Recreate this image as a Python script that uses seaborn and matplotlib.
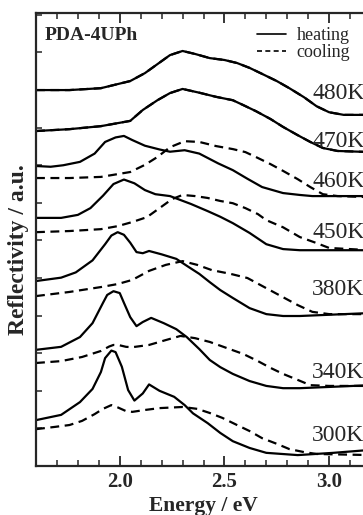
# -*- coding: utf-8 -*-
import numpy as np
import pandas as pd
import matplotlib
matplotlib.use('Agg')
import matplotlib.pyplot as plt
import matplotlib.transforms as mtransforms
import seaborn as sns
from matplotlib.lines import Line2D
from matplotlib.ticker import MultipleLocator, NullFormatter

sns.set_style('ticks')
plt.rcParams['font.family'] = ['Liberation Serif', 'DejaVu Serif']

# 数据 (energy / eV, reflectivity / a.u.)
e_480h = [1.60, 1.76, 1.91, 2.05, 2.12, 2.18, 2.24, 2.30, 2.36, 2.43, 2.50, 2.56, 2.62, 2.68, 2.75, 2.81, 2.88, 2.94, 3.00, 3.07, 3.20]
r_480h = [10.00, 10.00, 10.05, 10.24, 10.45, 10.69, 10.93, 11.04, 10.96, 10.85, 10.80, 10.72, 10.59, 10.43, 10.24, 10.05, 9.81, 9.57, 9.41, 9.34, 9.34]
e_480c = e_480h
r_480c = r_480h

e_470h = [1.60, 1.76, 1.91, 2.05, 2.11, 2.18, 2.24, 2.30, 2.38, 2.46, 2.54, 2.59, 2.65, 2.72, 2.78, 2.85, 2.91, 2.97, 3.04, 3.20]
r_470h = [8.91, 8.96, 9.04, 9.18, 9.47, 9.73, 9.92, 10.03, 9.93, 9.82, 9.73, 9.60, 9.44, 9.23, 9.02, 8.80, 8.62, 8.46, 8.38, 8.35]
e_470c = e_470h
r_470c = r_470h

e_460h = [1.60, 1.67, 1.73, 1.81, 1.88, 1.93, 1.98, 2.02, 2.06, 2.12, 2.19, 2.24, 2.31, 2.38, 2.47, 2.54, 2.61, 2.68, 2.78, 2.86, 2.92, 3.20]
r_460h = [7.98, 7.96, 8.00, 8.09, 8.31, 8.62, 8.74, 8.78, 8.67, 8.52, 8.42, 8.36, 8.40, 8.31, 8.05, 7.87, 7.64, 7.42, 7.26, 7.21, 7.18, 7.18]
e_460c = [1.60, 1.76, 1.91, 2.05, 2.12, 2.18, 2.24, 2.31, 2.38, 2.46, 2.54, 2.60, 2.65, 2.72, 2.78, 2.85, 2.91, 2.97, 3.04, 3.20]
r_460c = [7.66, 7.66, 7.69, 7.82, 8.01, 8.22, 8.48, 8.64, 8.62, 8.51, 8.43, 8.35, 8.22, 8.03, 7.85, 7.63, 7.42, 7.23, 7.18, 7.15]

e_450h = [1.60, 1.72, 1.80, 1.86, 1.92, 1.97, 2.02, 2.07, 2.12, 2.17, 2.24, 2.34, 2.42, 2.48, 2.54, 2.62, 2.70, 2.78, 2.86, 3.20]
r_450h = [6.60, 6.60, 6.68, 6.86, 7.19, 7.50, 7.62, 7.52, 7.34, 7.23, 7.18, 6.97, 6.78, 6.63, 6.46, 6.20, 5.90, 5.77, 5.74, 5.74]
e_450c = [1.60, 1.76, 1.91, 1.99, 2.06, 2.13, 2.19, 2.25, 2.30, 2.36, 2.42, 2.48, 2.54, 2.60, 2.66, 2.70, 2.78, 2.86, 2.94, 3.00, 3.20]
r_450c = [6.22, 6.25, 6.30, 6.38, 6.49, 6.62, 6.86, 7.10, 7.21, 7.18, 7.13, 7.05, 6.99, 6.86, 6.70, 6.54, 6.35, 6.09, 5.93, 5.80, 5.74]

e_380h = [1.60, 1.72, 1.79, 1.87, 1.93, 1.96, 1.99, 2.02, 2.05, 2.08, 2.11, 2.14, 2.20, 2.27, 2.33, 2.38, 2.43, 2.48, 2.54, 2.62, 2.70, 2.78, 2.86, 3.20]
r_380h = [4.92, 5.01, 5.15, 5.47, 5.90, 6.13, 6.22, 6.15, 5.94, 5.69, 5.66, 5.72, 5.63, 5.51, 5.29, 5.11, 4.89, 4.68, 4.47, 4.20, 4.04, 3.99, 3.99, 4.07]
e_380c = [1.60, 1.76, 1.91, 1.99, 2.06, 2.14, 2.22, 2.30, 2.37, 2.44, 2.53, 2.61, 2.68, 2.77, 2.85, 2.92, 3.00, 3.20]
r_380c = [4.52, 4.63, 4.76, 4.84, 4.95, 5.19, 5.35, 5.45, 5.35, 5.21, 5.11, 5.00, 4.79, 4.52, 4.28, 4.10, 4.04, 4.04]

e_340h = [1.60, 1.72, 1.81, 1.87, 1.92, 1.94, 1.97, 2.00, 2.02, 2.05, 2.08, 2.11, 2.15, 2.21, 2.27, 2.32, 2.38, 2.43, 2.48, 2.54, 2.62, 2.70, 2.78, 2.86, 3.20]
r_340h = [3.09, 3.17, 3.43, 3.80, 4.34, 4.55, 4.65, 4.60, 4.34, 3.96, 3.72, 3.83, 3.94, 3.80, 3.64, 3.43, 3.11, 2.82, 2.63, 2.45, 2.26, 2.13, 2.07, 2.07, 2.15]
e_340c = [1.60, 1.72, 1.82, 1.91, 1.95, 1.97, 2.00, 2.03, 2.06, 2.14, 2.22, 2.29, 2.36, 2.43, 2.51, 2.59, 2.66, 2.72, 2.78, 2.85, 2.91, 3.00, 3.20]
r_340c = [2.74, 2.79, 2.90, 3.06, 3.18, 3.22, 3.21, 3.17, 3.16, 3.22, 3.35, 3.46, 3.40, 3.30, 3.14, 2.98, 2.79, 2.61, 2.45, 2.29, 2.15, 2.13, 2.13]

e_300h = [1.60, 1.72, 1.81, 1.87, 1.91, 1.93, 1.96, 1.98, 2.01, 2.04, 2.07, 2.11, 2.14, 2.19, 2.26, 2.31, 2.35, 2.42, 2.48, 2.54, 2.62, 2.70, 2.85, 3.02, 3.20]
r_300h = [1.22, 1.36, 1.70, 2.05, 2.50, 2.87, 3.07, 3.03, 2.64, 2.02, 1.74, 1.93, 2.17, 2.00, 1.84, 1.62, 1.40, 1.14, 0.88, 0.66, 0.48, 0.35, 0.29, 0.35, 0.43]
e_300c = [1.60, 1.69, 1.76, 1.82, 1.88, 1.92, 1.96, 1.99, 2.03, 2.06, 2.12, 2.19, 2.30, 2.37, 2.43, 2.49, 2.56, 2.62, 2.68, 2.75, 2.81, 2.88, 2.94, 3.20]
r_300c = [0.98, 1.04, 1.09, 1.20, 1.38, 1.52, 1.62, 1.56, 1.46, 1.44, 1.49, 1.54, 1.57, 1.52, 1.41, 1.28, 1.09, 0.93, 0.74, 0.59, 0.45, 0.37, 0.32, 0.29]

temps = ['480K', '470K', '460K', '450K', '380K', '340K', '300K']
label_y = [9.92, 8.62, 7.56, 6.20, 4.69, 2.48, 0.80]

curves = [
    ('480K', 'heating', e_480h, r_480h), ('480K', 'cooling', e_480c, r_480c),
    ('470K', 'heating', e_470h, r_470h), ('470K', 'cooling', e_470c, r_470c),
    ('460K', 'heating', e_460h, r_460h), ('460K', 'cooling', e_460c, r_460c),
    ('450K', 'heating', e_450h, r_450h), ('450K', 'cooling', e_450c, r_450c),
    ('380K', 'heating', e_380h, r_380h), ('380K', 'cooling', e_380c, r_380c),
    ('340K', 'heating', e_340h, r_340h), ('340K', 'cooling', e_340c, r_340c),
    ('300K', 'heating', e_300h, r_300h), ('300K', 'cooling', e_300c, r_300c),
]
df = pd.concat([pd.DataFrame({'energy': e, 'refl': r, 'mode': m, 'curve': t + m})
                for t, m, e, r in curves], ignore_index=True)

fig = plt.figure(figsize=(3.63, 5.15), dpi=100)
ax = fig.add_axes([36 / 363, 49 / 515, 335 / 363, 453 / 515])

dash_map = {'heating': '', 'cooling': (4, 2.5)}
sns.lineplot(data=df, x='energy', y='refl', units='curve', style='mode',
             dashes=dash_map, estimator=None, sort=False, color='black',
             linewidth=1.6, legend=False, ax=ax)

ax.set_xlim(1.6, 3.2)
ax.set_ylim(0, 12.05)
ax.xaxis.set_major_locator(MultipleLocator(0.5))
ax.xaxis.set_minor_locator(MultipleLocator(0.1))
ax.yaxis.set_major_locator(MultipleLocator(1))
ax.yaxis.set_major_formatter(NullFormatter())
ax.tick_params(axis='x', which='major', direction='in', top=True, length=7, width=1.3,
               labelsize=15, pad=4)
ax.tick_params(axis='x', which='minor', direction='in', top=True, length=4, width=1.1)
ax.tick_params(axis='y', which='major', direction='in', left=True, right=False, length=4, width=1.1)
for lbl in ax.get_xticklabels():
    lbl.set_fontweight('bold')
for s in ax.spines.values():
    s.set_linewidth(1.6)

ax.set_xlabel('Energy / eV', fontsize=15.5, fontweight='bold', labelpad=3)
ax.set_ylabel('Reflectivity / a.u.', fontsize=17, fontweight='bold')
ax.yaxis.set_label_coords(-0.02, 0.477)

ax.text(0.027, 0.969, 'PDA-4UPh', transform=ax.transAxes, fontsize=14,
        fontweight='bold', ha='left', va='top')

trans = mtransforms.blended_transform_factory(fig.transFigure, ax.transData)
for t, yy in zip(temps, label_y):
    ax.text(1.004, yy, t, transform=trans, fontsize=17, ha='right', va='center')

handles = [Line2D([], [], color='black', lw=1.2),
           Line2D([], [], color='black', lw=1.2, dashes=(3, 2))]
fig.legend(handles, ['heating', 'cooling'], loc='upper left',
           bbox_to_anchor=(257 / 363, 1 - 27 / 515), frameon=False, fontsize=13,
           handlelength=1.6, handletextpad=0.6, labelspacing=0.0, borderpad=0,
           borderaxespad=0)

fig.savefig('out.png', dpi=100)
